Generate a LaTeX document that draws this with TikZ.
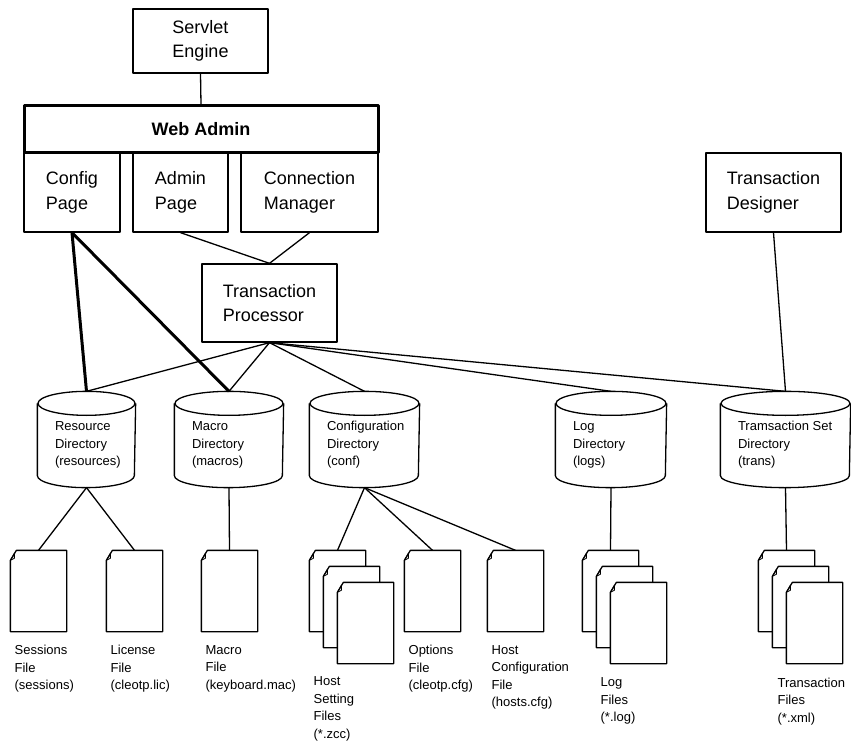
\documentclass[tikz,border=0pt]{standalone}
\usepackage{fontspec}
\setmainfont{Liberation Sans}
\usepackage{tikz}

\tikzset{
  box/.style={draw, inner sep=0pt, align=left, font=\fontsize{18}{24.5}\selectfont},
  small/.style={inner sep=0pt, align=left, font=\fontsize{13}{17.5}\selectfont},
  page/.style={inner sep=0pt, minimum width=55pt, minimum height=80pt},
}

% one sheet of paper with a turned corner, drawn round a named node
\newcommand\docpage[1]{%
  \filldraw[fill=white] ([yshift=-10pt]#1.north west) -- (#1.south west) -- (#1.south east)
    -- (#1.north east) -- ([xshift=6pt]#1.north west) -- cycle;
  \draw[line width=.8pt] ([yshift=-10pt]#1.north west) -- ([shift={(4pt,-3pt)}]#1.north west)
    -- ([shift={(4pt,-8pt)}]#1.north west) -- cycle;
}

\begin{document}
\begin{tikzpicture}
  [x=1pt, y=-1pt, line width=1.3pt, line join=round]
  \useasboundingbox (0,0) rectangle (851,743);

  \node[box, minimum width=135, minimum height=64] (se) at (200.5,41) {Servlet\\Engine};
  \node[box, minimum width=96, minimum height=79] (cp) at (72,192.5) {Config\\Page};
  \node[box, minimum width=95, minimum height=79] (ap) at (180.5,192.5) {Admin\\Page};
  \node[box, minimum width=137, minimum height=79] (cm) at (309.5,192.5) {Connection\\Manager};
  \node[box, line width=3pt, minimum width=354, minimum height=47,
    font=\fontsize{18}{24.5}\selectfont\bfseries] (wa) at (201,129.5) {Web Admin};
  \node[box, minimum width=135, minimum height=78] (tp) at (269.5,303) {Transaction\\Processor};
  \node[box, minimum width=135, minimum height=79] (td) at (773.5,192.5) {Transaction\\Designer};

  % directories
  \foreach \nm/\cx/\hw/\txt in {dres/86.5/48.5/{Resource\\Directory\\(resources)},
      dmac/229/54/{Macro\\Directory\\(macros)},
      dconf/364.5/54.5/{Configuration\\Directory\\(conf)},
      dlog/611/55/{Log\\Directory\\(logs)},
      dtrans/785.5/64.5/{Tramsaction Set\\Directory\\(trans)}}{
    \node[inner sep=0pt, minimum width=2*\hw*1pt, minimum height=95pt] (\nm) at (\cx,439.5) {};
    \draw ([yshift=-12pt]\nm.north) ellipse [x radius=\hw, y radius=12];
    \draw ([yshift=-12pt]\nm.north west) -- ([yshift=12pt]\nm.south west)
      arc [start angle=180, end angle=0, x radius=\hw, y radius=12] -- ([yshift=-12pt]\nm.north east);
    \node[small, anchor=west] (\nm-l) at ([xshift=17pt,yshift=-5.5pt]\nm.west) {\txt};
  }

  % files
  \foreach \nm/\x/\y in {fses/11/551, flic/107/551, fmac/202/551, fhs1/310/551, fhs2/324/567,
      fhs3/338/583, fopt/405/551, fhc/488/551, flog1/583/551, flog2/597/567, flog3/611/583,
      ftr1/759/551, ftr2/773/567, ftr3/787/583}{
    \node[page] (\nm) at (\x+27.5,\y+40) {};
    \docpage{\nm}
  }

  \node[small, anchor=north west] (lses) at (14,644.5) {Sessions\\File\\(sessions)};
  \node[small, anchor=north west] (llic) at (110,644.5) {License\\File\\(cleotp.lic)};
  \node[small, anchor=north west] (lmac) at (205,644.5) {Macro\\File\\(keyboard.mac)};
  \node[small, anchor=north west] (lhs) at (313,676) {Host\\Setting\\Files\\(*.zcc)};
  \node[small, anchor=north west] (lopt) at (408,644.5) {Options\\File\\(cleotp.cfg)};
  \node[small, anchor=north west] (lhc) at (491,644.5) {Host\\Configuration\\File\\(hosts.cfg)};
  \node[small, anchor=north west] (llog) at (600,677) {Log\\Files\\(*.log)};
  \node[small, anchor=north west] (ltr) at (777,677) {Transaction\\Files\\(*.xml)};

  \foreach \from/\to in {se/wa,ap/tp,cm/tp,tp/dres,tp/dmac,tp/dconf,tp/dlog,tp/dtrans,td/dtrans,
      dres/fses,dres/flic,dmac/fmac,dconf/fhs1,dconf/fopt,dconf/fhc,dlog/flog1,dtrans/ftr1}
    \draw (\from.south) -- (\to.north);
  \foreach \to in {dres,dmac}
    \draw[line width=3pt] (cp.south) -- (\to.north);
\end{tikzpicture}
\end{document}
